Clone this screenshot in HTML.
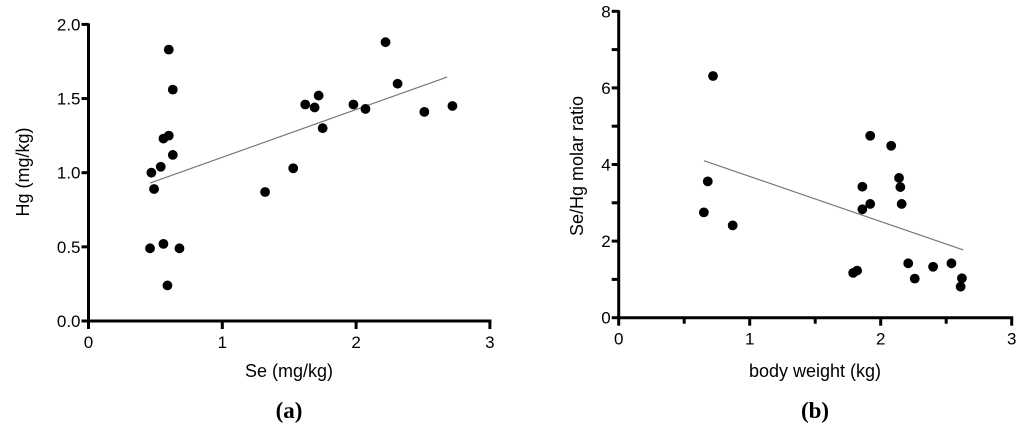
<!DOCTYPE html>
<html><head><meta charset="utf-8"><style>
body{margin:0;background:#fff}
svg text{font-family:"Liberation Sans",sans-serif;fill:#000}
</style></head><body>
<svg id="s" width="1024" height="432" xmlns="http://www.w3.org/2000/svg"></svg>
<script>
const aSe=[0.46,0.47,0.49,0.54,0.56,0.56,0.60,0.60,0.59,0.63,0.63,0.68,1.32,1.53,1.62,1.69,1.72,1.75,1.98,2.07,2.22,2.31,2.51,2.72];
const aHg=[0.49,1.0,0.89,1.04,1.23,0.52,1.83,1.25,0.24,1.12,1.56,0.49,0.87,1.03,1.46,1.44,1.52,1.30,1.46,1.43,1.88,1.60,1.41,1.45];
const aFitX=[0.46,2.68];const aFitY=[0.93,1.645];
const aXTicks=[0,1,2,3];const aYTicks=["0.0","0.5","1.0","1.5","2.0"];
const bW=[0.65,0.68,0.72,0.87,1.79,1.82,1.86,1.86,1.92,1.92,2.08,2.14,2.15,2.16,2.21,2.26,2.40,2.54,2.62,2.61];
const bR=[2.75,3.56,6.31,2.41,1.17,1.23,3.42,2.83,2.97,4.75,4.49,3.65,3.41,2.97,1.42,1.02,1.33,1.42,1.03,0.81];
const bFitX=[0.65,2.63];const bFitY=[4.10,1.77];
const bXTicks=[0,1,2,3];const bYTicks=[0,2,4,6,8];
const s=document.getElementById('s');const NS='http://www.w3.org/2000/svg';
function mk(t,at,txt){const e=document.createElementNS(NS,t);for(const k in at)e.setAttribute(k,at[k]);if(txt!==undefined)e.textContent=txt;s.appendChild(e);return e;}
function chart(p,c){
 const X=v=>c.x0+v*c.xs, Y=v=>c.y0-v*c.ys;
 let e=mk('line',{x1:c.x0,y1:Y(c.ymax)-1,x2:c.x0,y2:c.y0+1.5,stroke:'#000','stroke-width':3});
 
 e=mk('line',{x1:c.x0-1.5,y1:c.y0,x2:X(3)+1.5,y2:c.y0,stroke:'#000','stroke-width':3});
 
 for(let v=0;v<=3+1e-9;v+=c.xminor){const big=Math.abs(v-Math.round(v))<1e-6;
  mk('line',{x1:X(v),y1:c.y0,x2:X(v),y2:c.y0+(big?8:6),stroke:'#000','stroke-width':3});}
 for(let v=0;v<=c.ymax+1e-9;v+=c.yminor)mk('line',{x1:c.x0-7,y1:Y(v),x2:c.x0,y2:Y(v),stroke:'#000','stroke-width':3});
 c.xt.forEach(v=>{e=mk('text',{x:X(v),y:c.y0+27,'font-size':17,'text-anchor':'middle'},v);
  });
 c.yt.forEach(v=>{e=mk('text',{x:c.x0-8,y:Y(parseFloat(v))+6,'font-size':17,'text-anchor':'end'},v);
  });
 e=mk('line',{x1:X(c.fx[0]),y1:Y(c.fy[0]),x2:X(c.fx[1]),y2:Y(c.fy[1]),stroke:'#777','stroke-width':1.2});
 
 c.xs_.forEach((v,i)=>{e=mk('circle',{cx:X(v),cy:Y(c.ys_[i]),r:4.9,fill:'#000'});
  });
 e=mk('text',{x:c.xlx,y:377,'font-size':18,'text-anchor':'middle'},c.xl);
 
 e=mk('text',{x:0,y:0,'font-size':18,'text-anchor':'middle',transform:`translate(${c.ylx},${c.yly}) rotate(-90)`},c.yl);
 
 e=mk('text',{x:c.xlx,y:418,'font-size':23,'text-anchor':'middle','font-weight':'bold',style:'font-family:"Liberation Serif",serif'},c.cap);
 
}
chart('panel-a',{x0:88.5,y0:321,xs:133.8,ys:148.3,ymax:2,xminor:1,yminor:0.5,xt:aXTicks,yt:aYTicks,fx:aFitX,fy:aFitY,xs_:aSe,ys_:aHg,xl:'Se (mg/kg)',xlx:289,yl:'Hg (mg/kg)',ylx:29,yly:172,cap:'(a)'});
chart('panel-b',{x0:618.7,y0:317.7,xs:131,ys:38.3,ymax:8,xminor:0.5,yminor:1,xt:bXTicks,yt:bYTicks.map(String),fx:bFitX,fy:bFitY,xs_:bW,ys_:bR,xl:'body weight (kg)',xlx:815,yl:'Se/Hg molar ratio',ylx:583,yly:166,cap:'(b)'});
</script>
</body></html>
